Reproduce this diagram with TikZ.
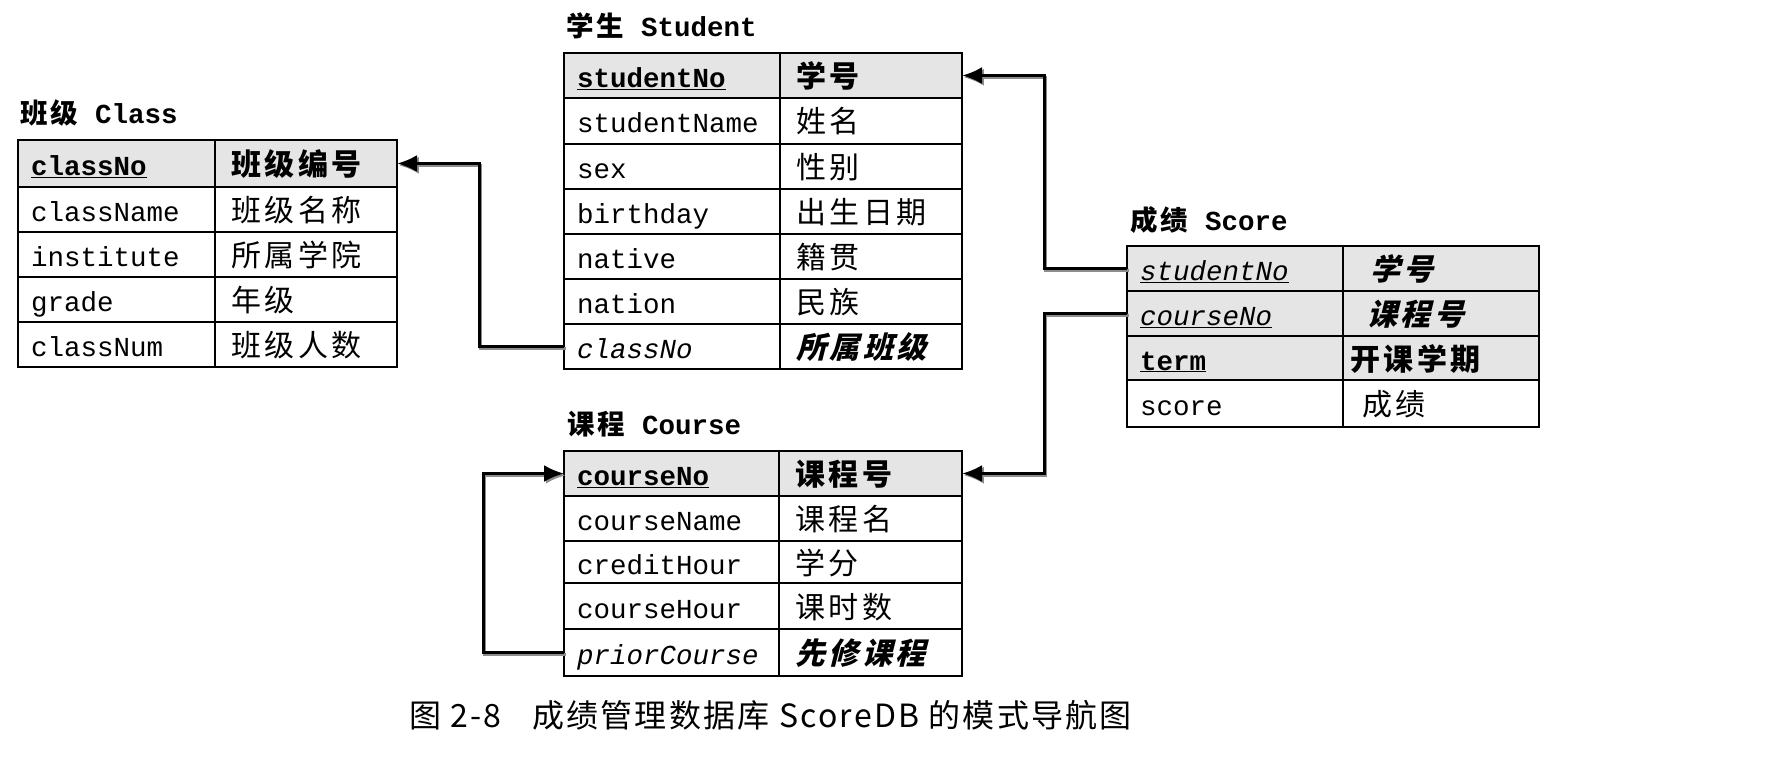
\documentclass[tikz,border=0pt]{standalone}
\usepackage{fontspec}
\setmainfont{Liberation Mono}
\newfontfamily\cjk[LetterSpace=12]{Noto Sans CJK SC}
\newfontfamily\cjks[FakeSlant=0.25,LetterSpace=12]{Noto Sans CJK SC}
\newfontfamily\cjkcap[LetterSpace=7]{Noto Sans CJK SC}
\usetikzlibrary{arrows.meta}
\tikzset{
  rowbox/.style={draw=black, line width=2.6pt, anchor=north west, inner sep=0pt, outer sep=0pt},
  en/.style={anchor=base west, inner sep=0pt, font=\fontsize{27.5}{30}\selectfont},
  zh/.style={anchor=base west, inner sep=0pt, font=\cjk\fontsize{30}{32}\selectfont},
  ttl/.style={anchor=base west, inner sep=0pt, font=\bfseries\fontsize{27.5}{30}\selectfont},
  captxt/.style={anchor=base west, inner sep=0pt, font=\cjkcap\fontsize{32}{34}\selectfont},
  conn/.style={line width=3pt, -{Latex[length=20pt,width=17pt]},
    preaction={draw=black!45, line width=3pt, transform canvas={xshift=1.8pt,yshift=-1.8pt}}},
}
\newcommand\tabrow[9]{%
  \node[rowbox, fill=#7, minimum width={(#4-#2)*1pt}, minimum height={(#6-#5)*1pt}] (#1) at (#2,#5) {};
  \draw[line width=2.6pt] (#3,#5) -- (#3,#6);
  \node[en] (#1l) at ({#2+13},{(#5+#6)/2+12}) {#8};
  \node[zh] (#1r) at ({#3+16},{(#5+#6)/2+12}) {#9};
}
\begin{document}
\begin{tikzpicture}[x=1pt,y=-1pt]
\useasboundingbox (0,0) rectangle (1777,757);
\fill[white] (0,0) rectangle (1777,757);

% Class
\node[ttl] (tcls) at (20,124) {{\cjk 班级} Class};
\tabrow{cls1}{18}{215}{397}{140}{187}{black!10}{\bfseries\underline{classNo}}{\bfseries 班级编号}
\tabrow{cls2}{18}{215}{397}{187}{232}{white}{className}{班级名称}
\tabrow{cls3}{18}{215}{397}{232}{277}{white}{institute}{所属学院}
\tabrow{cls4}{18}{215}{397}{277}{322}{white}{grade}{年级}
\tabrow{cls5}{18}{215}{397}{322}{367}{white}{classNum}{班级人数}

% Student
\node[ttl] (tstu) at (566,37) {{\cjk 学生} Student};
\tabrow{stu1}{564}{780}{962}{53}{98}{black!10}{\bfseries\underline{studentNo}}{\bfseries 学号}
\tabrow{stu2}{564}{780}{962}{98}{144}{white}{studentName}{姓名}
\tabrow{stu3}{564}{780}{962}{144}{189}{white}{sex}{性别}
\tabrow{stu4}{564}{780}{962}{189}{234}{white}{birthday}{出生日期}
\tabrow{stu5}{564}{780}{962}{234}{279}{white}{native}{籍贯}
\tabrow{stu6}{564}{780}{962}{279}{324}{white}{nation}{民族}
\tabrow{stu7}{564}{780}{962}{324}{369}{white}{\itshape classNo}{\cjks\bfseries 所属班级}

% Course
\node[ttl] (tcrs) at (567,434) {{\cjk 课程} Course};
\tabrow{crs1}{564}{779}{962}{451}{496}{black!10}{\bfseries\underline{courseNo}}{\bfseries 课程号}
\tabrow{crs2}{564}{779}{962}{496}{541}{white}{courseName}{课程名}
\tabrow{crs3}{564}{779}{962}{541}{583}{white}{creditHour}{学分}
\tabrow{crs4}{564}{779}{962}{583}{629}{white}{courseHour}{课时数}
\tabrow{crs5}{564}{779}{962}{629}{676}{white}{\itshape priorCourse}{\cjks\bfseries 先修课程}

% Score
\node[ttl] (tsc) at (1130,230) {{\cjk 成绩} Score};
\tabrow{sc1}{1127}{1343}{1539}{246}{291}{black!10}{\itshape\underline{studentNo}}{\hspace{11pt}\cjks\bfseries 学号}
\tabrow{sc2}{1127}{1343}{1539}{291}{336}{black!10}{\itshape\underline{courseNo}}{\hspace{8pt}\cjks\bfseries 课程号}
\tabrow{sc3}{1127}{1343}{1539}{336}{380}{black!10}{\bfseries\underline{term}}{\hspace{-9pt}\bfseries 开课学期}
\tabrow{sc4}{1127}{1343}{1539}{380}{427}{white}{score}{\hspace{3pt}成绩}

% connectors
\draw[conn] (stu7.west) -- ++(-85,0) |- (cls1.east);
\draw[conn] (sc1.west) -- ++(-83,0) |- (stu1.east);
\draw[conn] (sc2.west) -- ++(-83,0) |- (crs1.east);
\draw[conn] (crs5.west) -- ++(-81,0) |- (crs1.west);

% caption
\node[captxt] (capa) at (409,727) {图 2-8};
\node[captxt] (capb) at (532,727) {成绩管理数据库 ScoreDB 的模式导航图};
\end{tikzpicture}
\end{document}
